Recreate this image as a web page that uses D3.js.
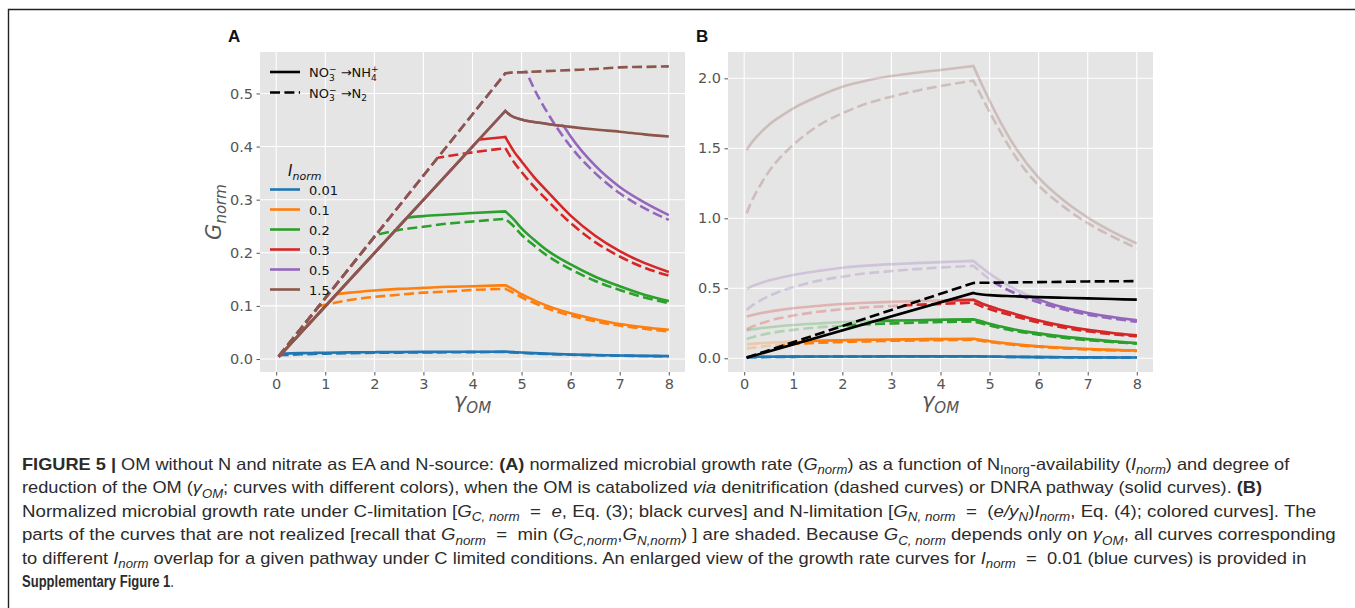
<!DOCTYPE html>
<html><head><meta charset="utf-8">
<script src="https://cdn.jsdelivr.net/npm/d3@7"></script>
<style>body{margin:0;background:#fff}svg{display:block}text{white-space:pre}</style>
</head><body>
<svg id="fig" width="1355" height="608"></svg>
<script>
// ---------------- data ----------------
const inormLabels = ["0.01", "0.1", "0.2", "0.3", "0.5", "1.5"];
const seriesColors = ["#1f77b4", "#ff7f0e", "#2ca02c", "#d62728", "#9467bd", "#8c564b"];
const xTicks = [0, 1, 2, 3, 4, 5, 6, 7, 8];
const yTicksA = [0.0, 0.1, 0.2, 0.3, 0.4, 0.5];
const yTicksB = [0.0, 0.5, 1.0, 1.5, 2.0];
const peakGamma = 4.67;

// gamma_OM sample positions of the N-limited curves
const gammaN = [0.05, 0.15, 0.3, 0.5, 0.75, 1, 1.5, 2, 2.5, 3, 3.5, 4, 4.67, 4.85, 5, 5.25, 5.5, 6, 6.5, 7, 7.5, 8];
// N-limited growth, DNRA (NO3- -> NH4+), solid
const nDnra001 = [0.0099, 0.0103, 0.0107, 0.0111, 0.0115, 0.0119, 0.0125, 0.0129, 0.0132, 0.0134, 0.0136, 0.0137, 0.0139, 0.0130, 0.0122, 0.0111, 0.0101, 0.0086, 0.0075, 0.0066, 0.0060, 0.0055];
const nDnra01 = [0.099, 0.103, 0.107, 0.111, 0.115, 0.119, 0.125, 0.129, 0.132, 0.134, 0.136, 0.137, 0.139, 0.130, 0.122, 0.111, 0.101, 0.086, 0.075, 0.066, 0.060, 0.055];
const nDnra02 = [0.198, 0.205, 0.213, 0.222, 0.231, 0.238, 0.249, 0.259, 0.265, 0.269, 0.272, 0.275, 0.278, 0.262, 0.246, 0.225, 0.206, 0.178, 0.155, 0.137, 0.121, 0.109];
const nDnra03 = [0.298, 0.308, 0.320, 0.333, 0.346, 0.357, 0.374, 0.388, 0.397, 0.403, 0.408, 0.412, 0.418, 0.390, 0.372, 0.343, 0.318, 0.270, 0.232, 0.203, 0.181, 0.164];
const nDnra05 = [0.496, 0.513, 0.533, 0.556, 0.577, 0.595, 0.623, 0.647, 0.662, 0.672, 0.680, 0.687, 0.696, 0.645, 0.605, 0.548, 0.497, 0.419, 0.364, 0.324, 0.295, 0.271];
const nDnra15 = [1.488, 1.54, 1.60, 1.667, 1.73, 1.786, 1.87, 1.94, 1.985, 2.016, 2.04, 2.06, 2.088, 1.95, 1.84, 1.67, 1.52, 1.29, 1.13, 1.005, 0.905, 0.82];
// N-limited growth, denitrification (NO3- -> N2), dashed
const nDen001 = [0.0069, 0.0075, 0.0081, 0.0089, 0.0096, 0.0102, 0.0111, 0.0117, 0.0121, 0.0125, 0.0127, 0.0130, 0.0132, 0.0124, 0.0116, 0.0106, 0.0096, 0.0082, 0.0071, 0.0063, 0.0057, 0.0052];
const nDen01 = [0.069, 0.075, 0.081, 0.089, 0.096, 0.102, 0.111, 0.117, 0.121, 0.125, 0.127, 0.130, 0.132, 0.124, 0.116, 0.106, 0.096, 0.082, 0.071, 0.063, 0.057, 0.052];
const nDen02 = [0.138, 0.149, 0.163, 0.178, 0.192, 0.203, 0.221, 0.233, 0.243, 0.249, 0.255, 0.259, 0.264, 0.249, 0.234, 0.214, 0.196, 0.169, 0.147, 0.130, 0.116, 0.105];
const nDen03 = [0.207, 0.224, 0.244, 0.267, 0.288, 0.305, 0.332, 0.350, 0.364, 0.374, 0.382, 0.389, 0.397, 0.370, 0.352, 0.325, 0.301, 0.256, 0.220, 0.193, 0.172, 0.157];
const nDen05 = [0.345, 0.373, 0.407, 0.444, 0.480, 0.508, 0.553, 0.583, 0.607, 0.623, 0.637, 0.648, 0.661, 0.607, 0.565, 0.510, 0.468, 0.400, 0.350, 0.312, 0.284, 0.262];
const nDen15 = [1.036, 1.12, 1.22, 1.333, 1.44, 1.524, 1.66, 1.75, 1.82, 1.869, 1.91, 1.945, 1.983, 1.86, 1.76, 1.60, 1.455, 1.235, 1.085, 0.965, 0.87, 0.786];

// C-limited growth (independent of I_norm)
const gammaC = [0.05, 4.67, 4.77, 5, 5.5, 6, 6.5, 7, 7.5, 8];
const cDnra = [0.004, 0.467, 0.459, 0.451, 0.443, 0.437, 0.432, 0.428, 0.423, 0.419];
const cDen = [0.005, 0.538, 0.539, 0.540, 0.542, 0.544, 0.546, 0.549, 0.550, 0.551];

// ---------------- drawing ----------------
const nDnra = [nDnra001, nDnra01, nDnra02, nDnra03, nDnra05, nDnra15];
const nDen = [nDen001, nDen01, nDen02, nDen03, nDen05, nDen15];
const DASH = "10,4.4";
const pathways = [
  {key: "dnra", n: nDnra, c: cDnra, dash: null},
  {key: "den", n: nDen, c: cDen, dash: DASH}
];
const zip = (xs, ys) => xs.map((x, i) => [x, ys[i]]);

const svg = d3.select("#fig");
svg.append("rect").attr("width", 1355).attr("height", 608).attr("fill", "#fff");
svg.append("path").attr("d", "M8.5,608V9.5H1355").attr("fill", "none").attr("stroke", "#222").attr("stroke-width", 1.4);
const defs = svg.append("defs");

const LW = 2.6;
const TICKF = "'DejaVu Sans', sans-serif";

function makePanel(id, left, right, yDomain, yTicks, label) {
  const top = 52, bottom = 372;
  const x = d3.scaleLinear().domain([-0.33, 8.33]).range([left, right]);
  const y = d3.scaleLinear().domain(yDomain).range([bottom, top]);
  const g = svg.append("g");
  g.append("rect").attr("x", left).attr("y", top).attr("width", right - left).attr("height", bottom - top).attr("fill", "#e5e5e5");
  g.selectAll(".gx").data(xTicks).join("line").attr("x1", d => x(d)).attr("x2", d => x(d)).attr("y1", top).attr("y2", bottom)
    .attr("stroke", "#fff").attr("stroke-width", 1.1);
  g.selectAll(".gy").data(yTicks).join("line").attr("y1", d => y(d)).attr("y2", d => y(d)).attr("x1", left).attr("x2", right)
    .attr("stroke", "#fff").attr("stroke-width", 1.1);
  const ax = g.append("g").attr("transform", `translate(0,${bottom})`)
    .call(d3.axisBottom(x).tickValues(xTicks).tickFormat(d3.format("d")).tickSize(3.5).tickPadding(3.5));
  const ay = g.append("g").attr("transform", `translate(${left},0)`)
    .call(d3.axisLeft(y).tickValues(yTicks).tickFormat(d3.format(".1f")).tickSize(3.5).tickPadding(3.5));
  [ax, ay].forEach(a => {
    a.select(".domain").remove();
    a.selectAll("line").attr("stroke", "#555").attr("stroke-width", 1);
    a.selectAll("text").attr("fill", "#555").attr("font-family", TICKF).attr("font-size", 14.5);
  });
  svg.append("text").attr("x", left - 32).attr("y", 42).text(label)
    .attr("font-family", "'Liberation Sans', Arial, sans-serif").attr("font-weight", "bold").attr("font-size", 17).attr("fill", "#111");
  const xl = g.append("text").attr("x", (left + right) / 2).attr("y", 408).attr("text-anchor", "middle")
    .attr("font-family", TICKF).attr("font-style", "italic").attr("fill", "#555").attr("font-size", 21);
  xl.append("tspan").text("γ");
  xl.append("tspan").text("OM").attr("font-size", 15).attr("dy", 5);
  defs.append("clipPath").attr("id", id + "-plot").append("rect")
    .attr("x", left).attr("y", top).attr("width", right - left).attr("height", bottom - top);
  const plot = svg.append("g").attr("clip-path", `url(#${id}-plot)`);
  return {x, y, g, plot, left, right, top, bottom};
}

// smooth path, keeping the kink at the peak gamma
function curvePath(P, pts) {
  const lg = d3.line().x(d => P.x(d[0])).y(d => P.y(d[1])).curve(d3.curveMonotoneX);
  const k = pts.findIndex(d => d[0] === peakGamma);
  if (k <= 0) return lg(pts);
  const a = lg(pts.slice(0, k + 1));
  const b = lg(pts.slice(k)).replace(/^M/, "L");
  return a + b;
}
// clip region lying below a curve (boundary lifted ~1.4px so strokes on it survive)
function underClip(P, pts, id) {
  const x0 = P.x(pts[0][0]), y0 = P.y(pts[0][1]);
  const x1 = P.x(pts[pts.length - 1][0]), y1 = P.y(pts[pts.length - 1][1]);
  const body = curvePath(P, pts).replace(/^M/, "L");
  const d = `M${x0 - 20},2000L${x0 - 20},${y0}` + body + `L${x1 + 20},${y1}L${x1 + 20},2000Z`;
  defs.append("clipPath").attr("id", id).append("path").attr("d", d).attr("transform", "translate(0,-1.4)");
  return `url(#${id})`;
}

// ---------- Panel A ----------
const A = makePanel("A", 260, 685, [-0.0244, 0.578], yTicksA, "A");
{
  const gl = A.g.append("text").attr("transform", "translate(221,212) rotate(-90)").attr("text-anchor", "middle")
    .attr("font-family", TICKF).attr("font-style", "italic").attr("fill", "#555").attr("font-size", 21);
  gl.append("tspan").text("G");
  gl.append("tspan").text("norm").attr("font-size", 15).attr("dy", 5);
}
seriesColors.forEach((col, k) => {
  pathways.forEach(pw => {
    const nPts = zip(gammaN, pw.n[k]);
    const cPts = zip(gammaC, pw.c);
    const clipUnderC = underClip(A, cPts, `A-c-${pw.key}-${k}`);
    const clipUnderN = underClip(A, nPts, `A-n-${pw.key}-${k}`);
    A.plot.append("g").attr("clip-path", clipUnderC).append("path").attr("d", curvePath(A, nPts))
      .attr("fill", "none").attr("stroke", col).attr("stroke-width", LW).attr("stroke-dasharray", pw.dash);
    A.plot.append("g").attr("clip-path", clipUnderN).append("path").attr("d", curvePath(A, cPts))
      .attr("fill", "none").attr("stroke", col).attr("stroke-width", LW).attr("stroke-dasharray", pw.dash);
  });
});

// legends in A
{
  const LF = TICKF;
  const lg = svg.append("g");
  const entries = [{dash: null, y: 72}, {dash: DASH, y: 92.5}];
  entries.forEach((e, i) => {
    lg.append("line").attr("x1", 270).attr("x2", 300).attr("y1", e.y).attr("y2", e.y)
      .attr("stroke", "#000").attr("stroke-width", LW).attr("stroke-dasharray", e.dash);
    const t = lg.append("text").attr("x", 309).attr("y", e.y + 5).attr("font-family", LF).attr("font-size", 13).attr("fill", "#111");
    t.append("tspan").text("NO");
    t.append("tspan").text("3").attr("font-size", 9).attr("dy", 3.5);
    t.append("tspan").text("−").attr("font-size", 9).attr("dx", -5.7).attr("dy", -8.5);
    t.append("tspan").text(" →").attr("dy", 5);
    if (i === 0) {
      t.append("tspan").text("NH");
      t.append("tspan").text("4").attr("font-size", 9).attr("dy", 3.5);
      t.append("tspan").text("+").attr("font-size", 9).attr("dx", -5.7).attr("dy", -8.5);
    } else {
      t.append("tspan").text("N");
      t.append("tspan").text("2").attr("font-size", 9).attr("dy", 3.5);
    }
  });
  const tt = lg.append("text").attr("x", 288).attr("y", 176).attr("font-family", LF).attr("font-style", "italic").attr("font-size", 15).attr("fill", "#111");
  tt.append("tspan").text("I");
  tt.append("tspan").text("norm").attr("font-size", 11).attr("dy", 4);
  inormLabels.forEach((lab, k) => {
    const yy = 189.5 + k * 20;
    lg.append("line").attr("x1", 270).attr("x2", 300).attr("y1", yy).attr("y2", yy)
      .attr("stroke", seriesColors[k]).attr("stroke-width", LW);
    lg.append("text").attr("x", 309).attr("y", yy + 5).text(lab).attr("font-family", LF).attr("font-size", 13).attr("fill", "#111");
  });
}

// ---------- Panel B ----------
const B = makePanel("B", 728, 1153, [-0.098, 2.188], yTicksB, "B");
seriesColors.forEach((col, k) => {
  pathways.forEach(pw => {
    const nPts = zip(gammaN, pw.n[k]);
    const cPts = zip(gammaC, pw.c);
    B.plot.append("path").attr("d", curvePath(B, nPts)).attr("fill", "none").attr("stroke", col).attr("stroke-opacity", 0.27)
      .attr("stroke-width", LW).attr("stroke-dasharray", pw.dash);
    const clipUnderC = underClip(B, cPts, `B-c-${pw.key}-${k}`);
    B.plot.append("g").attr("clip-path", clipUnderC).append("path").attr("d", curvePath(B, nPts))
      .attr("fill", "none").attr("stroke", col).attr("stroke-width", LW).attr("stroke-dasharray", pw.dash);
  });
});
pathways.forEach(pw => {
  B.plot.append("path").attr("d", curvePath(B, zip(gammaC, pw.c))).attr("fill", "none").attr("stroke", "#000")
    .attr("stroke-width", LW).attr("stroke-dasharray", pw.dash);
});

// ---------- caption ----------
const capLines = [
  {w: 1268, parts: [["FIGURE 5 | ", "b"], ["OM without N and nitrate as EA and N-source: "], ["(A)", "b"], [" normalized microbial growth rate ("], ["G", "i"], ["norm", "is"], [") as a function of N"], ["Inorg", "s"], ["-availability ("], ["I", "i"], ["norm", "is"], [") and degree of"]]},
  {w: 1241, parts: [["reduction of the OM ("], ["γ", "i"], ["OM", "is"], ["; curves with different colors), when the OM is catabolized "], ["via", "i"], [" denitrification (dashed curves) or DNRA pathway (solid curves). "], ["(B)", "b"]]},
  {w: 1295, parts: [["Normalized microbial growth rate under C-limitation ["], ["G", "i"], ["C, norm", "is"], ["  =  "], ["e", "i"], [", Eq. (3); black curves] and N-limitation ["], ["G", "i"], ["N, norm", "is"], ["  =  ("], ["e/y", "i"], ["N", "is"], [")"], ["I", "i"], ["norm", "is"], [", Eq. (4); colored curves]. The"]]},
  {w: 1315, parts: [["parts of the curves that are not realized [recall that "], ["G", "i"], ["norm", "is"], ["  =  min ("], ["G", "i"], ["C,norm", "is"], [","], ["G", "i"], ["N,norm", "is"], [") ] are shaded. Because "], ["G", "i"], ["C, norm", "is"], [" depends only on "], ["γ", "i"], ["OM", "is"], [", all curves corresponding"]]},
  {w: 1285, parts: [["to different "], ["I", "i"], ["norm", "is"], [" overlap for a given pathway under C limited conditions. An enlarged view of the growth rate curves for "], ["I", "i"], ["norm", "is"], ["  =  0.01 (blue curves) is provided in"]]},
  {w: 152, parts: [["Supplementary Figure 1", "b"], ["."]]}
];
const CAPF = "'Liberation Sans', Arial, sans-serif";
const base = 16.5;
capLines.forEach((ln, i) => {
  const y0 = 470 + i * 23.4;
  const g = svg.append("g");
  const t = g.append("text").attr("x", 0).attr("y", 0).attr("font-family", CAPF)
    .attr("font-size", base).attr("fill", "#2b2b2b");
  let inSub = false;
  ln.parts.forEach(([txt, f = ""]) => {
    const ts = t.append("tspan").text(txt);
    if (f.includes("b")) ts.attr("font-weight", "bold");
    if (f.includes("i")) ts.attr("font-style", "italic");
    const sub = f.includes("s");
    if (sub) { ts.attr("font-size", base * 0.72); if (!inSub) ts.attr("dy", 4.4); }
    else if (inSub) ts.attr("dy", -4.4);
    inSub = sub;
  });
  const nat = t.node().getComputedTextLength();
  g.attr("transform", `translate(22,${y0}) scale(${ln.w / nat},1)`);
});
</script>
</body></html>
